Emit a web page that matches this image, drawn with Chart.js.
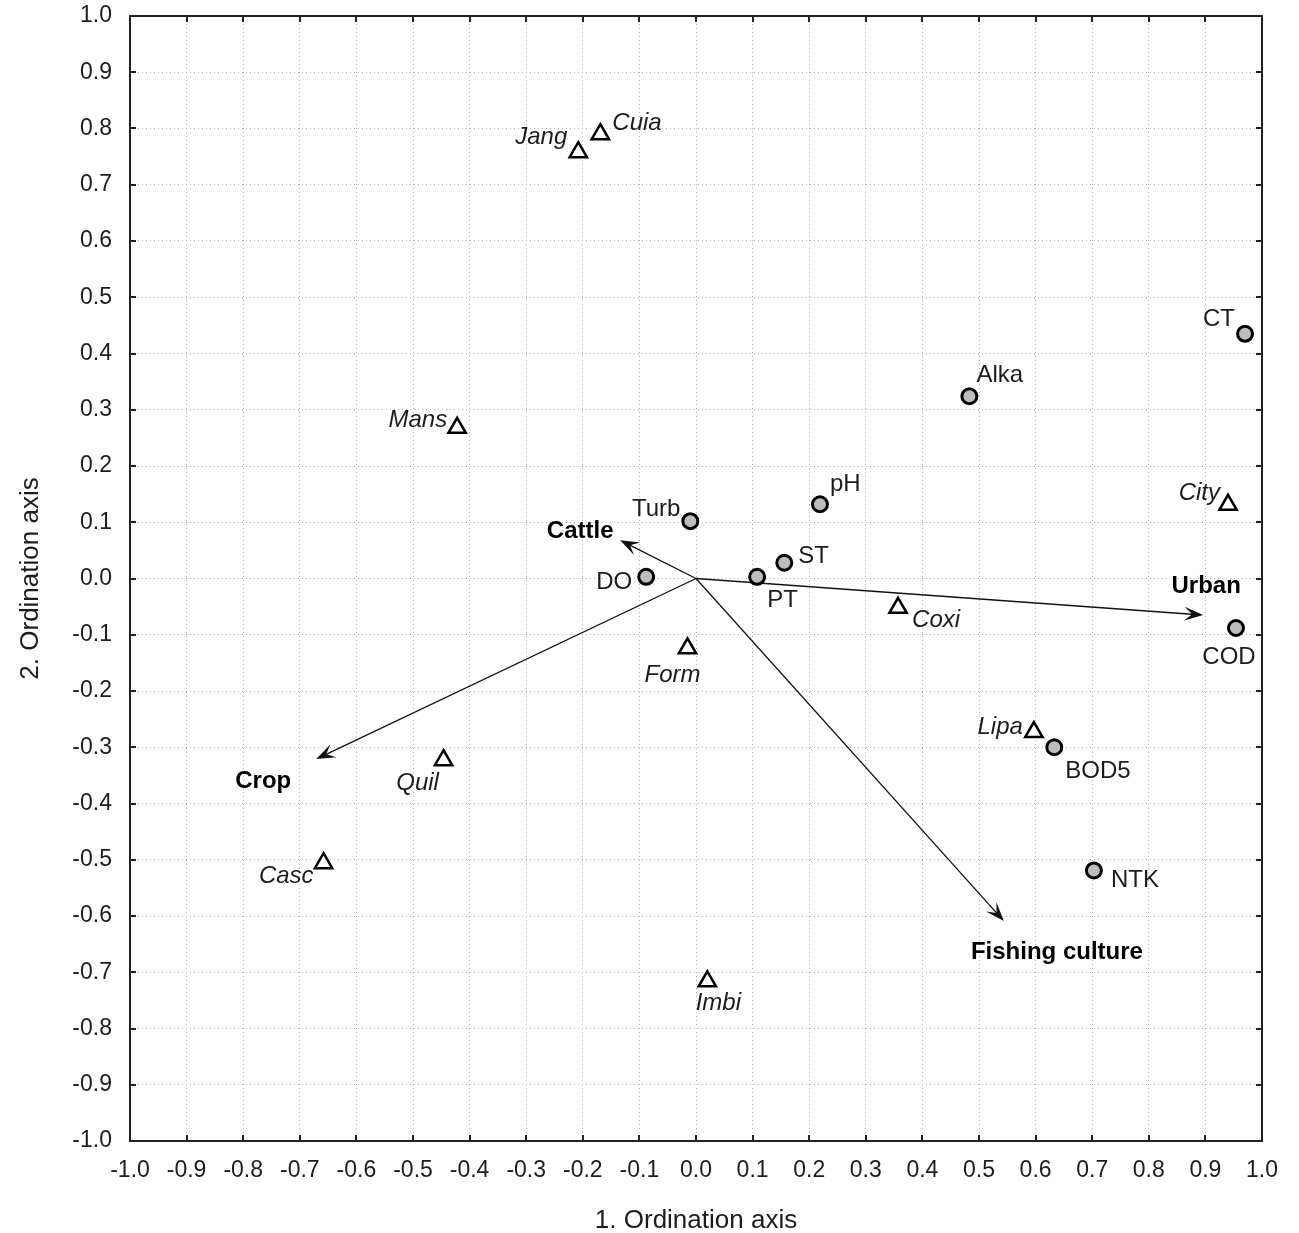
<!DOCTYPE html>
<html><head><meta charset="utf-8">
<script src="https://cdn.jsdelivr.net/npm/chart.js@4.4.1/dist/chart.umd.min.js"></script>
<style>html,body{margin:0;padding:0;background:#fff}canvas{display:block}</style>
</head><body>
<canvas id="c" width="1299" height="1233"></canvas>
<script>
// ---- data ----
const siteNames = ['Jang','Cuia','Mans','City','Coxi','Form','Lipa','Quil','Casc','Imbi'];
const siteX = [-0.208, -0.169, -0.422, 0.940, 0.357, -0.015, 0.597, -0.446, -0.658, 0.020];
const siteY = [0.758, 0.790, 0.268, 0.131, -0.052, -0.124, -0.273, -0.323, -0.506, -0.716];

const varNames = ['CT','Alka','pH','Turb','ST','DO','PT','COD','BOD5','NTK'];
const varX = [0.970, 0.483, 0.219, -0.010, 0.156, -0.088, 0.108, 0.954, 0.633, 0.703];
const varY = [0.435, 0.324, 0.132, 0.102, 0.028, 0.003, 0.003, -0.088, -0.300, -0.519];

const envNames = ['Cattle','Urban','Crop','Fishing culture'];
const envX = [-0.134, 0.896, -0.671, 0.544];
const envY = [0.068, -0.065, -0.321, -0.609];

const axisMin = -1.0, axisMax = 1.0, axisStep = 0.1;
const xTitle = '1. Ordination axis';
const yTitle = '2. Ordination axis';

// ---- label placement (pixel offsets from the marker, styling only) ----
const siteLabelPos = [[-11,-15,'right'],[12,-11,'left'],[-10,-7,'right'],[-8,-11,'right'],[14,13,'left'],
                      [-15,27,'center'],[-11,-5,'right'],[-26,23,'center'],[-10,13,'right'],[11,22,'center']];
const varLabelPos = [[-10,-14,'right'],[7,-21,'left'],[10,-20,'left'],[-10,-12,'right'],[14,-6,'left'],
                     [-14,6,'right'],[10,24,'left'],[-7,29,'center'],[11,24,'left'],[17,10,'left']];
const envLabelPos = [[-40,-9,'center'],[3,-29,'center'],[-53,22,'center'],[53,31,'center']];

const FONT = '"Liberation Sans", Arial, sans-serif';
const TXT = '#1c1c1c';

const overlay = {
  id: 'overlay',
  beforeDatasetsDraw(chart) {
    const {ctx, scales: {x, y}} = chart;
    const ox = x.getPixelForValue(0), oy = y.getPixelForValue(0);
    ctx.save();
    ctx.strokeStyle = '#111';
    ctx.fillStyle = '#111';
    ctx.lineWidth = 1.3;
    envX.forEach((vx, i) => {
      const tx = x.getPixelForValue(vx), ty = y.getPixelForValue(envY[i]);
      const ang = Math.atan2(ty - oy, tx - ox);
      ctx.beginPath();
      ctx.moveTo(ox, oy);
      ctx.lineTo(tx - Math.cos(ang) * 8, ty - Math.sin(ang) * 8);
      ctx.stroke();
      const L = 19, W = 7, N = 11;
      ctx.save();
      ctx.translate(tx, ty);
      ctx.rotate(ang);
      ctx.beginPath();
      ctx.moveTo(0, 0);
      ctx.lineTo(-L, -W);
      ctx.lineTo(-N, 0);
      ctx.lineTo(-L, W);
      ctx.closePath();
      ctx.fill();
      ctx.restore();
    });
    ctx.restore();
  },
  afterDatasetsDraw(chart) {
    const {ctx, chartArea: a, scales: {x, y}} = chart;
    ctx.save();
    // frame
    ctx.strokeStyle = '#222';
    ctx.lineWidth = 2;
    ctx.strokeRect(a.left, a.top, a.right - a.left, a.bottom - a.top);
    // inward tick marks
    ctx.lineWidth = 2;
    ctx.beginPath();
    x.ticks.forEach(t => {
      const px = Math.round(x.getPixelForValue(t.value));
      ctx.moveTo(px, a.bottom); ctx.lineTo(px, a.bottom - 6);
      ctx.moveTo(px, a.top); ctx.lineTo(px, a.top + 6);
    });
    y.ticks.forEach(t => {
      const py = Math.round(y.getPixelForValue(t.value));
      ctx.moveTo(a.left, py); ctx.lineTo(a.left + 6, py);
      ctx.moveTo(a.right, py); ctx.lineTo(a.right - 6, py);
    });
    ctx.stroke();
    // labels
    ctx.fillStyle = TXT;
    ctx.textBaseline = 'middle';
    const put = (names, xs, ys, pos, font) => {
      ctx.font = font;
      names.forEach((n, i) => {
        const px = x.getPixelForValue(xs[i]), py = y.getPixelForValue(ys[i]);
        const [dx, dy, al] = pos[i];
        ctx.textAlign = al;
        ctx.fillText(n, px + dx, py + dy);
      });
    };
    put(siteNames, siteX, siteY, siteLabelPos, 'italic 24px ' + FONT);
    put(varNames, varX, varY, varLabelPos, '24px ' + FONT);
    ctx.fillStyle = '#000';
    put(envNames, envX, envY, envLabelPos, 'bold 24px ' + FONT);
    ctx.restore();
  }
};

const tickFmt = v => (Math.abs(v) < 1e-9 ? 0 : v).toFixed(1);

new Chart(document.getElementById('c'), {
  type: 'scatter',
  data: {
    datasets: [
      {
        label: 'Sites',
        data: siteX.map((vx, i) => ({x: vx, y: siteY[i]})),
        pointStyle: 'triangle',
        pointRadius: 10,
        pointBackgroundColor: '#ffffff',
        pointBorderColor: '#000',
        pointBorderWidth: 2.5
      },
      {
        label: 'Variables',
        data: varX.map((vx, i) => ({x: vx, y: varY[i]})),
        pointStyle: 'circle',
        pointRadius: 7.5,
        pointBackgroundColor: '#bdbdbd',
        pointBorderColor: '#000',
        pointBorderWidth: 3
      }
    ]
  },
  options: {
    responsive: false,
    animation: false,
    devicePixelRatio: 1,
    layout: {padding: {top: 16, right: 37, bottom: 0, left: 0}},
    plugins: {legend: {display: false}, tooltip: {enabled: false}},
    scales: {
      x: {
        type: 'linear', min: axisMin, max: axisMax,
        afterFit: s => { s.height = 92; s.paddingLeft = 0; s.paddingRight = 0; },
        ticks: {stepSize: axisStep, callback: tickFmt, padding: 16, color: TXT,
                font: {family: FONT, size: 23}, maxRotation: 0, autoSkip: false},
        grid: {color: '#b4b4b4', lineWidth: 1, drawTicks: false},
        border: {display: false, dash: [1, 3]},
        title: {display: true, text: xTitle, color: TXT, font: {family: FONT, size: 26},
                padding: {top: 0, bottom: -3}}
      },
      y: {
        type: 'linear', min: axisMin, max: axisMax,
        afterFit: s => { s.width = 130; s.paddingTop = 0; s.paddingBottom = 0; },
        ticks: {stepSize: axisStep, callback: tickFmt, padding: 18, color: TXT,
                font: {family: FONT, size: 23}, autoSkip: false},
        grid: {color: '#b4b4b4', lineWidth: 1, drawTicks: false},
        border: {display: false, dash: [1, 3]},
        title: {display: true, text: yTitle, color: TXT, font: {family: FONT, size: 26},
                padding: {top: 15, bottom: 0}}
      }
    }
  },
  plugins: [overlay]
});
</script>
</body></html>
